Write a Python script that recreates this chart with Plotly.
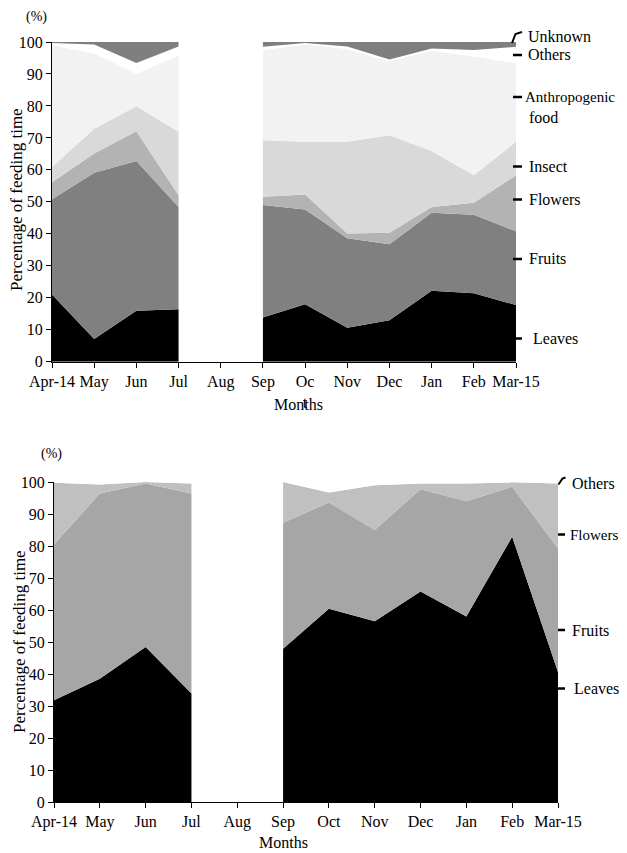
import plotly.graph_objects as go

# The page shows the figure with an 8px body margin, so the figure is made
# 8px smaller and all page-pixel positions are shifted by that offset.
OFF = 8
W, H = 627 - OFF, 853 - OFF

months = ["Apr-14", "May", "Jun", "Jul", "Aug", "Sep", "Oct", "Nov", "Dec", "Jan", "Feb", "Mar-15"]
top_tick_labels = ["Apr-14", "May", "Jun", "Jul", "Aug", "Sep", "Oc<br>t", "Nov", "Dec", "Jan", "Feb", "Mar-15"]
y_ticks = [0, 10, 20, 30, 40, 50, 60, 70, 80, 90, 100]

# Top chart (feeding time, %)
top_leaves = [21.0, 7.1, 15.9, 16.4, None, 13.8, 18.0, 10.6, 13.0, 22.2, 21.4, 17.7]
top_fruits = [29.8, 52.0, 46.9, 32.0, None, 35.2, 29.6, 28.0, 23.7, 24.4, 24.6, 23.1]
top_flowers = [5.3, 6.0, 9.3, 3.7, None, 2.6, 4.7, 1.5, 3.6, 1.8, 3.7, 17.5]
top_insect = [4.8, 7.8, 7.8, 19.8, None, 17.7, 16.5, 28.7, 30.5, 17.5, 8.6, 10.5]
top_anthro = [38.1, 23.5, 10.2, 23.9, None, 28.2, 30.4, 29.0, 23.2, 31.4, 37.2, 24.6]
top_others = [0.7, 2.8, 3.3, 2.8, None, 1.0, 0.5, 0.8, 0.5, 0.7, 2.0, 5.1]
top_unknown = [0.3, 0.8, 6.6, 1.4, None, 1.5, 0.3, 1.4, 5.5, 2.0, 2.5, 1.5]

# Bottom chart
bot_leaves = [31.8, 38.5, 48.4, 33.9, None, 47.9, 60.4, 56.5, 65.8, 58.0, 82.9, 40.6]
bot_fruits = [48.7, 57.9, 51.1, 62.5, None, 39.4, 33.2, 28.5, 31.9, 36.0, 15.6, 38.6]
bot_flowers = [19.3, 2.8, 0.5, 3.1, None, 12.7, 3.1, 14.0, 1.8, 5.5, 1.4, 20.3]
bot_others = [0.2, 0.8, 0.0, 0.5, None, 0.0, 3.3, 1.0, 0.5, 0.5, 0.1, 0.5]

top_series = [
    ("Leaves", top_leaves, "#000000"),
    ("Fruits", top_fruits, "#808080"),
    ("Flowers", top_flowers, "#b3b3b3"),
    ("Insect", top_insect, "#d9d9d9"),
    ("Anthropogenic food", top_anthro, "#f2f2f2"),
    ("Others", top_others, "#ffffff"),
    ("Unknown", top_unknown, "#7f7f7f"),
]
bot_series = [
    ("Leaves", bot_leaves, "#000000"),
    ("Fruits", bot_fruits, "#a6a6a6"),
    ("Flowers", bot_flowers, "#c0c0c0"),
    ("Others", bot_others, "#ffffff"),
]

FONT = "Liberation Serif"

fig = go.Figure()
xs = list(range(len(months)))
segments = [(0, 4), (5, 12)]


def add_stack(series, xa, ya, tag):
    for si, (a, b) in enumerate(segments):
        for name, vals, col in series:
            fig.add_trace(go.Scatter(
                x=xs[a:b], y=vals[a:b], name=name, mode="lines",
                line=dict(width=0, color=col), fillcolor=col,
                stackgroup=f"{tag}{si}", xaxis=xa, yaxis=ya,
                showlegend=False, hoverinfo="skip"))


add_stack(top_series, "x", "y", "top")
add_stack(bot_series, "x2", "y2", "bot")


def px_x(v):
    return (v - OFF) / W


def px_y(v):
    return 1 - (v - OFF) / H


axis_common = dict(showgrid=False, zeroline=False, showline=True, linecolor="black",
                   linewidth=1, ticks="outside", ticklen=5, tickcolor="black",
                   automargin=False, tickangle=0,
                   tickfont=dict(family=FONT, size=16, color="black"))

fig.update_layout(
    width=W, height=H, margin=dict(l=0, r=0, t=0, b=0, autoexpand=False),
    paper_bgcolor="white", plot_bgcolor="white", showlegend=False,
    xaxis=dict(domain=[px_x(52), px_x(516)], range=[0, 11], tickvals=xs,
               ticktext=top_tick_labels, anchor="y", **axis_common),
    yaxis=dict(domain=[px_y(361.7), px_y(42)], range=[0, 100], tickvals=y_ticks,
               anchor="x", **axis_common),
    xaxis2=dict(domain=[px_x(54), px_x(558)], range=[0, 11], tickvals=xs,
                ticktext=months, anchor="y2", **axis_common),
    yaxis2=dict(domain=[px_y(802), px_y(482)], range=[0, 100], tickvals=y_ticks,
                anchor="x2", **axis_common),
)

annotations = []
shapes = []


def label(text, x, y, size=16, anchor="left", angle=0):
    annotations.append(dict(text=text, x=px_x(x), y=px_y(y), xref="paper", yref="paper",
                            xanchor=anchor, yanchor="middle", showarrow=False,
                            textangle=angle,
                            font=dict(family=FONT, size=size, color="black")))


def dash(x0, x1, y):
    shapes.append(dict(type="line", xref="paper", yref="paper",
                       x0=px_x(x0), x1=px_x(x1), y0=px_y(y), y1=px_y(y),
                       line=dict(color="black", width=2.5)))


def bracket(pts):
    path = "M {} {} L {} {} L {} {}".format(*[c for p in pts for c in (px_x(p[0]), px_y(p[1]))])
    shapes.append(dict(type="path", xref="paper", yref="paper", path=path,
                       line=dict(color="black", width=2)))


# Top chart texts
label("(%)", 36, 17, size=14, anchor="center")
label("Percentage of feeding time", 17, 200, size=17, anchor="center", angle=-90)
label("Months", 298, 404, size=16, anchor="center")
bracket([(512, 43), (515.5, 34), (522, 32)])
label("Unknown", 526, 36)
dash(513, 522, 55)
label("Others", 526, 55)
dash(513, 522, 97)
label("Anthropogenic", 523, 97, size=15)
label("food", 527, 117)
dash(513, 522, 166.5)
label("Insect", 527, 166.5)
dash(513, 522, 199.5)
label("Flowers", 527, 199.5)
dash(513, 522, 259)
label("Fruits", 527, 259)
dash(513, 522, 338.5)
label("Leaves", 531, 338.5)

# Bottom chart texts
label("(%)", 51, 454, size=14, anchor="center")
label("Percentage of feeding time", 19, 642, size=17, anchor="center", angle=-90)
label("Months", 283, 842, size=16, anchor="center")
bracket([(558.5, 484.5), (562.5, 478.5), (565.5, 477.5)])
label("Others", 570, 483)
dash(558, 565, 534.5)
label("Flowers", 568, 534.5, size=15)
dash(558, 565, 630)
label("Fruits", 570, 630)
dash(558, 565, 688.5)
label("Leaves", 572, 688.5)

fig.update_layout(annotations=annotations, shapes=shapes)

fig.write_html("out.html")
